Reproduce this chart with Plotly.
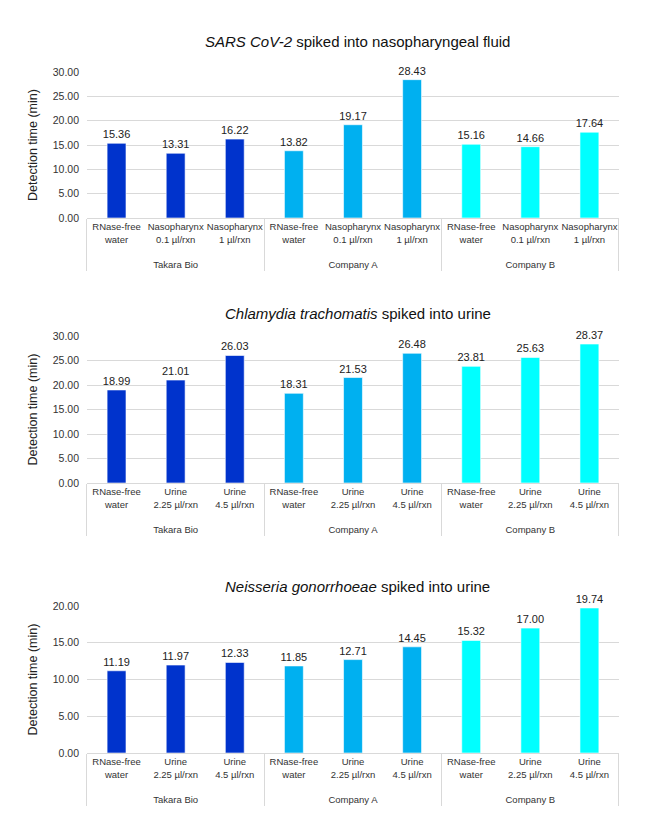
import plotly.graph_objects as go
from plotly.subplots import make_subplots

# company groups and colours
companies = ["Takara Bio", "Company A", "Company B"]
company_colors = ["#0033CC", "#00B0F0", "#00FFFF"]

# panel 1: SARS CoV-2 in nasopharyngeal fluid
sars_samples = ["RNase-free<br>water", "Nasopharynx<br>0.1 µl/rxn", "Nasopharynx<br>1 µl/rxn"]
sars_values = [15.36, 13.31, 16.22, 13.82, 19.17, 28.43, 15.16, 14.66, 17.64]

# panel 2: Chlamydia trachomatis in urine
ct_samples = ["RNase-free<br>water", "Urine<br>2.25 µl/rxn", "Urine<br>4.5 µl/rxn"]
ct_values = [18.99, 21.01, 26.03, 18.31, 21.53, 26.48, 23.81, 25.63, 28.37]

# panel 3: Neisseria gonorrhoeae in urine
ng_samples = ["RNase-free<br>water", "Urine<br>2.25 µl/rxn", "Urine<br>4.5 µl/rxn"]
ng_values = [11.19, 11.97, 12.33, 11.85, 12.71, 14.45, 15.32, 17.00, 19.74]

panel_titles = [
    "<i>SARS CoV-2</i> spiked into nasopharyngeal fluid",
    "<i>Chlamydia trachomatis</i> spiked into urine",
    "<i>Neisseria gonorrhoeae</i> spiked into urine",
]
y_ranges = [[0, 30], [0, 30], [0, 20]]
y_dticks = [5, 5, 5]

FONT = "Liberation Sans"
panels = [(sars_samples, sars_values), (ct_samples, ct_values), (ng_samples, ng_values)]

fig = make_subplots(rows=3, cols=1)

for r, (samples, values) in enumerate(panels, start=1):
    outer = [c for c in companies for _ in samples]
    # extra blank line pushes the company row further down, like Excel
    inner = [s + "<br> " for _ in companies for s in samples]
    colors = [col for col in company_colors for _ in samples]
    fig.add_trace(
        go.Bar(
            x=[outer, inner],
            y=values,
            marker=dict(color=colors, line=dict(color="rgba(255,255,255,0.6)", width=1)),
            width=0.32,
            text=values,
            texttemplate="%{y:.2f}",
            textposition="outside",
            constraintext="none",
            textfont=dict(size=11, color="#222"),
            cliponaxis=False,
            showlegend=False,
        ),
        row=r, col=1,
    )

# plot area positions (paper fractions; page has an 8px body offset)
x_dom = [0.1206, 0.9328]
y_doms = [[0.7491, 0.9235], [0.4325, 0.6081], [0.1099, 0.2855]]
title_y = [0.9594, 0.6356, 0.3094]

for i in range(3):
    ax = "" if i == 0 else str(i + 1)
    fig.layout["xaxis" + ax].update(
        domain=x_dom,
        automargin=False,
        tickangle=0,
        showline=True, linecolor="#D9D9D9", linewidth=1,
        showdividers=True, dividercolor="#D9D9D9", dividerwidth=1,
        tickfont=dict(size=9.5, color="#333"),
        ticks="",
    )
    fig.layout["yaxis" + ax].update(
        domain=y_doms[i],
        automargin=False,
        range=y_ranges[i],
        dtick=y_dticks[i],
        tickformat=".2f",
        ticklabelstandoff=7,
        showgrid=True, gridcolor="#D9D9D9", gridwidth=1,
        zeroline=False,
        tickfont=dict(size=10.5, color="#333"),
        title=dict(text="Detection time (min)", font=dict(size=12.5, color="#222"), standoff=12),
    )
    fig.add_annotation(
        text=panel_titles[i], xref="paper", yref="paper",
        x=0.534, y=title_y[i], showarrow=False,
        font=dict(size=15, color="#111", family=FONT),
        xanchor="center", yanchor="middle",
    )

fig.update_layout(
    width=655, height=837,
    margin=dict(l=0, r=0, t=0, b=0),
    paper_bgcolor="white", plot_bgcolor="white",
    font=dict(family=FONT, color="#333"),
    bargap=0.68,
)

fig.write_html("out.html")
